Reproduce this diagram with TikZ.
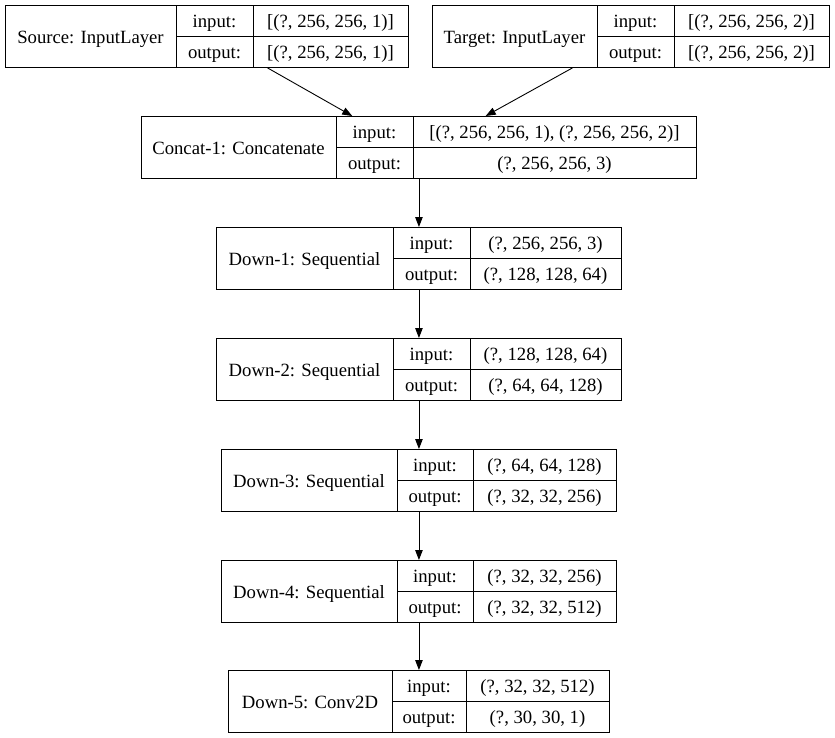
\documentclass[tikz,border=0pt]{standalone}
\usepackage{fontspec}
\setmainfont{Liberation Serif}
\usetikzlibrary{calc, arrows.meta}

% one layer: name, left, split1, split2, right, top, title, input shape, output shape
\newcommand{\layer}[9]{%
    \node[lyr, minimum width={#5pt-#2pt}, anchor=north west] (#1) at (#2,#6) {};
    \draw[cellline] (#3,#6) -- (#3,#6+62);
    \draw[cellline] (#4,#6) -- (#4,#6+62);
    \draw[cellline] (#3,#6+31) -- (#5,#6+31);
    \node[txt] (#1-title) at ({(#2+#3)/2},#6+38) {#7};
    \node[txt] (#1-inkey) at ({(#3+#4)/2},#6+22.3) {input:};
    \node[txt] (#1-outkey) at ({(#3+#4)/2},#6+53.3) {output:};
    \node[txt] (#1-inval) at ({(#4+#5)/2},#6+22.3) {#8};
    \node[txt] (#1-outval) at ({(#4+#5)/2},#6+53.3) {#9};
}

\begin{document}
\begin{tikzpicture}[
    x=1pt, y=-1pt,
    >={Triangle[length=10pt, width=7.5pt]},
    lyr/.style={draw, line width=0.9pt, minimum height=62pt, inner sep=0pt},
    cellline/.style={line width=0.9pt},
    txt/.style={inner sep=0pt, anchor=base, font=\fontsize{18.7}{22}\selectfont},
    flow/.style={->, line width=0.9pt}]

    \useasboundingbox[fill=white] (0,0) rectangle (835,737);

    %%% Layers
    \layer{source}{5}{176}{253}{408}{5}{Source: InputLayer}{[(?, 256, 256, 1)]}{[(?, 256, 256, 1)]}
    \layer{target}{432}{597}{674}{829}{5}{Target: InputLayer}{[(?, 256, 256, 2)]}{[(?, 256, 256, 2)]}
    \layer{concat}{141}{336}{413}{696}{116}{Concat-1: Concatenate}{[(?, 256, 256, 1), (?, 256, 256, 2)]}{(?, 256, 256, 3)}
    \layer{down1}{216}{393}{470}{621}{227}{Down-1: Sequential}{(?, 256, 256, 3)}{(?, 128, 128, 64)}
    \layer{down2}{216}{393}{470}{621}{338}{Down-2: Sequential}{(?, 128, 128, 64)}{(?, 64, 64, 128)}
    \layer{down3}{221}{397}{473}{616}{449}{Down-3: Sequential}{(?, 64, 64, 128)}{(?, 32, 32, 256)}
    \layer{down4}{221}{397}{473}{616}{560}{Down-4: Sequential}{(?, 32, 32, 256)}{(?, 32, 32, 512)}
    \layer{down5}{228}{392}{466}{609}{670}{Down-5: Conv2D}{(?, 32, 32, 512)}{(?, 30, 30, 1)}

    %%% Connections between layers
    \draw[flow] ($(source.south west)!0.65!(source.south east)$) -- ($(concat.north west)!0.38!(concat.north east)$);
    \draw[flow] ($(target.south west)!0.353!(target.south east)$) -- ($(concat.north west)!0.62!(concat.north east)$);
    \draw[flow] (concat.south) -- (down1.north);
    \draw[flow] (down1.south) -- (down2.north);
    \draw[flow] (down2.south) -- (down3.north);
    \draw[flow] (down3.south) -- (down4.north);
    \draw[flow] (down4.south) -- (down5.north);

\end{tikzpicture}
\end{document}
